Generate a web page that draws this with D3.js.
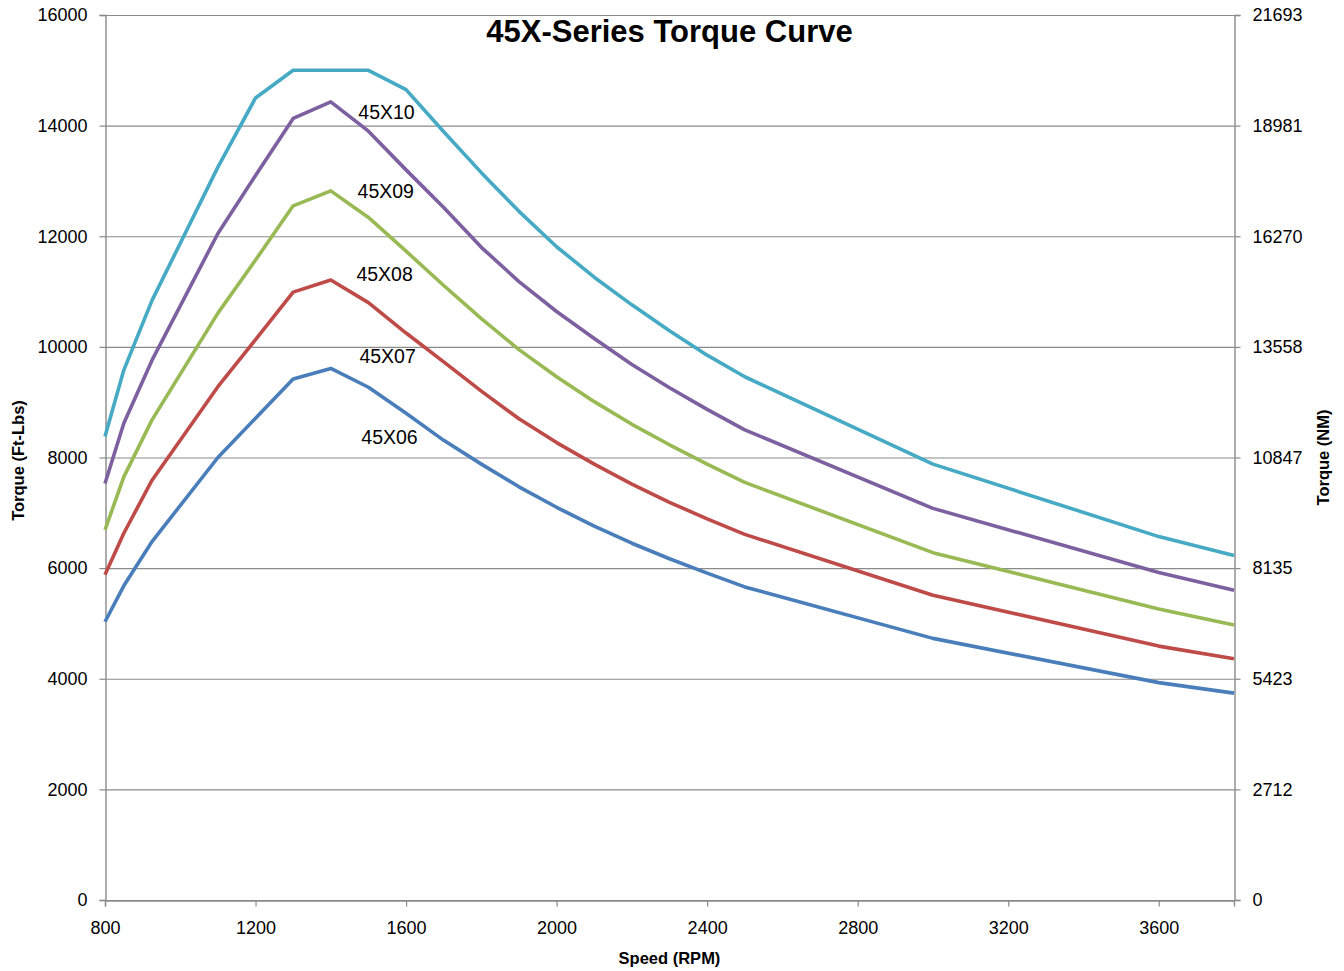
<!DOCTYPE html>
<html>
<head>
<meta charset="utf-8">
<script src="https://cdn.jsdelivr.net/npm/d3@7"></script>
<style>
  html, body { margin: 0; padding: 0; background: #fff; }
  svg { display: block; }
  text { font-family: "Liberation Sans", Arial, sans-serif; fill: #000; }
</style>
</head>
<body>
<svg id="chart" width="1344" height="971"></svg>
<script>
// ---- data ----
const rpm = [800, 850, 925, 1100, 1200, 1300, 1400, 1500, 1600, 1700, 1800, 1900, 2000, 2100, 2200, 2300, 2400, 2500, 3000, 3600, 3800];

const t45X06 = [5030, 5680, 6480, 8000, 8710, 9420, 9610, 9270, 8800, 8310, 7880, 7470, 7100, 6760, 6450, 6170, 5910, 5660, 4730, 3930, 3740];
const t45X07 = [5880, 6630, 7590, 9280, 10130, 10990, 11210, 10800, 10250, 9730, 9200, 8700, 8270, 7880, 7520, 7190, 6890, 6610, 5510, 4590, 4360];
const t45X08 = [6690, 7650, 8680, 10610, 11570, 12550, 12820, 12340, 11730, 11110, 10510, 9950, 9460, 9010, 8600, 8230, 7880, 7550, 6280, 5260, 4970];
const t45X09 = [7530, 8620, 9760, 12050, 13100, 14130, 14430, 13900, 13200, 12520, 11800, 11180, 10640, 10150, 9680, 9260, 8870, 8500, 7080, 5920, 5600];
const t45X10 = [8380, 9580, 10840, 13250, 14500, 15000, 15000, 15000, 14650, 13890, 13150, 12450, 11810, 11260, 10760, 10290, 9850, 9460, 7880, 6570, 6230];

const seriesNames = ["45X06", "45X07", "45X08", "45X09", "45X10"];
const seriesValues = [t45X06, t45X07, t45X08, t45X09, t45X10];
const seriesColors = ["#4A7EBB", "#BE4B48", "#98B954", "#7D60A0", "#46AAC5"];

// in-plot label anchors (rpm, ft-lbs)
const labelRpm = [1556, 1551, 1543, 1546, 1548];
const labelTorque = [8370, 9835, 11320, 12820, 14250];

const leftTicks = [0, 2000, 4000, 6000, 8000, 10000, 12000, 14000, 16000];
const rightTickLabels = ["0", "2712", "5423", "8135", "10847", "13558", "16270", "18981", "21693"];
const xTicks = [800, 1200, 1600, 2000, 2400, 2800, 3200, 3600];

const titleText = "45X-Series Torque Curve";
const xTitle = "Speed (RPM)";
const yLeftTitle = "Torque (Ft-Lbs)";
const yRightTitle = "Torque (NM)";

// ---- layout ----
const W = 1344, H = 971;
const plot = { left: 105, right: 1234, top: 15, bottom: 900 };
const svg = d3.select("#chart");
const gridColor = "#8a8a8a";
const tickFont = 18;

const x = d3.scaleLinear().domain([800, 3800]).range([plot.left, plot.right]);
const y = d3.scaleLinear().domain([0, 16000]).range([plot.bottom, plot.top]);
const yR = d3.scaleLinear().domain([0, 16000]).range([plot.bottom, plot.top]);

// gridlines
svg.append("g")
  .selectAll("line")
  .data(leftTicks)
  .join("line")
  .attr("x1", plot.left).attr("x2", plot.right)
  .attr("y1", d => y(d) + 0.5).attr("y2", d => y(d) + 0.5)
  .attr("stroke", gridColor).attr("stroke-width", 1.2);

function styleAxis(g) {
  g.select(".domain").attr("stroke", gridColor).attr("stroke-width", 1.4);
  g.selectAll(".tick line").attr("stroke", gridColor).attr("stroke-width", 1.2);
  g.selectAll(".tick text").attr("font-size", tickFont)
    .attr("font-family", "Liberation Sans, Arial, sans-serif").attr("fill", "#000");
}

// left axis
const gL = svg.append("g").attr("transform", `translate(${plot.left + 0.5},0)`)
  .call(d3.axisLeft(y).tickValues(leftTicks).tickSize(6).tickPadding(12).tickFormat(d3.format("d")));
styleAxis(gL);

// right axis
const gR = svg.append("g").attr("transform", `translate(${plot.right + 0.5},0)`)
  .call(d3.axisRight(yR).tickValues(leftTicks).tickSize(6).tickPadding(12).tickFormat((d, i) => rightTickLabels[i]));
styleAxis(gR);

// bottom axis
const gB = svg.append("g").attr("transform", `translate(0,${plot.bottom + 0.5})`)
  .call(d3.axisBottom(x).tickValues(xTicks).tickSize(6).tickPadding(15).tickFormat(d3.format("d")));
styleAxis(gB);

// lines
const line = d3.line().x((d, i) => x(rpm[i])).y(d => y(d));
svg.append("g")
  .selectAll("path")
  .data(seriesValues)
  .join("path")
  .attr("d", d => line(d))
  .attr("fill", "none")
  .attr("stroke", (d, i) => seriesColors[i])
  .attr("stroke-width", 3.6)
  .attr("stroke-linejoin", "round")
  .attr("stroke-linecap", "butt");

// series labels
svg.append("g")
  .selectAll("text")
  .data(seriesNames)
  .join("text")
  .attr("x", (d, i) => x(labelRpm[i]))
  .attr("y", (d, i) => y(labelTorque[i]))
  .attr("text-anchor", "middle")
  .attr("dominant-baseline", "central")
  .attr("font-size", 19.5)
  .text(d => d);

// title
svg.append("text")
  .attr("x", (plot.left + plot.right) / 2)
  .attr("y", 42)
  .attr("text-anchor", "middle")
  .attr("font-size", 31)
  .attr("font-weight", "bold")
  .text(titleText);

// axis titles
svg.append("text")
  .attr("x", (plot.left + plot.right) / 2)
  .attr("y", 964)
  .attr("text-anchor", "middle")
  .attr("font-size", 16.5)
  .attr("font-weight", "bold")
  .text(xTitle);

svg.append("text")
  .attr("transform", `translate(24,${(plot.top + plot.bottom) / 2 + 3}) rotate(-90)`)
  .attr("text-anchor", "middle")
  .attr("font-size", 16.5)
  .attr("font-weight", "bold")
  .text(yLeftTitle);

svg.append("text")
  .attr("transform", `translate(1329,${(plot.top + plot.bottom) / 2}) rotate(-90)`)
  .attr("text-anchor", "middle")
  .attr("font-size", 16.5)
  .attr("font-weight", "bold")
  .text(yRightTitle);
</script>
</body>
</html>
